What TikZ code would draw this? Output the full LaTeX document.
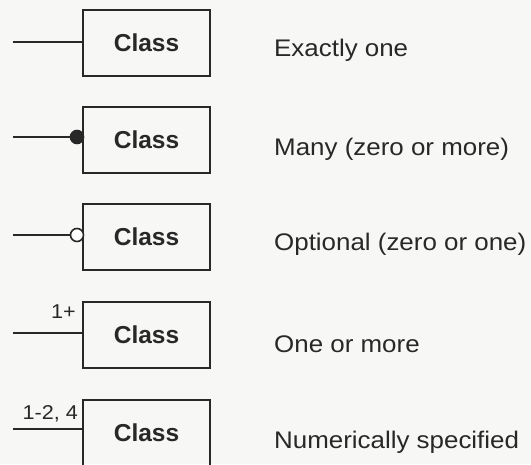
\documentclass[tikz,border=0pt]{standalone}
\usepackage{fontspec}
\setmainfont{Liberation Sans}
\newfontfamily\widefont{Liberation Sans}[FakeStretch=1.08]
\usetikzlibrary{positioning}
\definecolor{inkGray}{RGB}{40,40,40}
\definecolor{paperGray}{RGB}{247,247,245}

\begin{document}
\begin{tikzpicture}[x=1pt,y=-1pt,
        box/.style={draw=inkGray,line width=1.8pt,minimum width=127pt,minimum height=66pt,inner sep=0pt,
          font=\fontsize{24.5}{28}\selectfont\bfseries,text=inkGray},
        lbl/.style={anchor=base west,inner sep=0pt,font=\widefont\fontsize{24}{28}\selectfont,text=inkGray},
        mult/.style={anchor=base east,inner sep=0pt,font=\widefont\fontsize{20}{24}\selectfont,text=inkGray},
        link/.style={draw=inkGray,line width=1.8pt},
        dot/.style={circle,draw=inkGray,line width=1.6pt,minimum size=13pt,inner sep=0pt}
      ]
        \fill[paperGray] (0,0) rectangle (531,464);
        \useasboundingbox (0,0) rectangle (531,464);
        % classes
        \node[box] (c1) at (146.5,43) {Class};
        \node[box] (c2) at (146.5,140) {Class};
        \node[box] (c3) at (146.5,237) {Class};
        \node[box] (c4) at (146.5,335) {Class};
        \node[box] (c5) at (146.5,433) {Class};
        % free line ends
        \coordinate (e1) at (13,42);
        \coordinate (e2) at (13,137);
        \coordinate (e3) at (13,235);
        \coordinate (e4) at (13,333);
        \coordinate (e5) at (13,429);
        \draw[link] (e1) -- (e1 -| c1.west);
        \draw[link] (e2) -- (e2 -| c2.west);
        \draw[link] (e3) -- (e3 -| c3.west);
        \draw[link] (e4) -- (e4 -| c4.west);
        \draw[link] (e5) -- (e5 -| c5.west);
        % multiplicity marks
        \node[dot,fill=inkGray] (many) at (77,137) {};
        \node[dot,fill=white] (opt) at (77,235) {};
        \node[mult] (m4) at (76,318) {1+};
        \node[mult] (m5) at (78,419) {1-2, 4};
        % meanings
        \node[lbl] (t1) at (274,56) {Exactly one};
        \node[lbl] (t2) at (274,155) {Many (zero or more)};
        \node[lbl] (t3) at (274,250) {Optional (zero or one)};
        \node[lbl] (t4) at (274,352) {One or more};
        \node[lbl] (t5) at (274,448) {Numerically specified};
      \end{tikzpicture}
\end{document}
